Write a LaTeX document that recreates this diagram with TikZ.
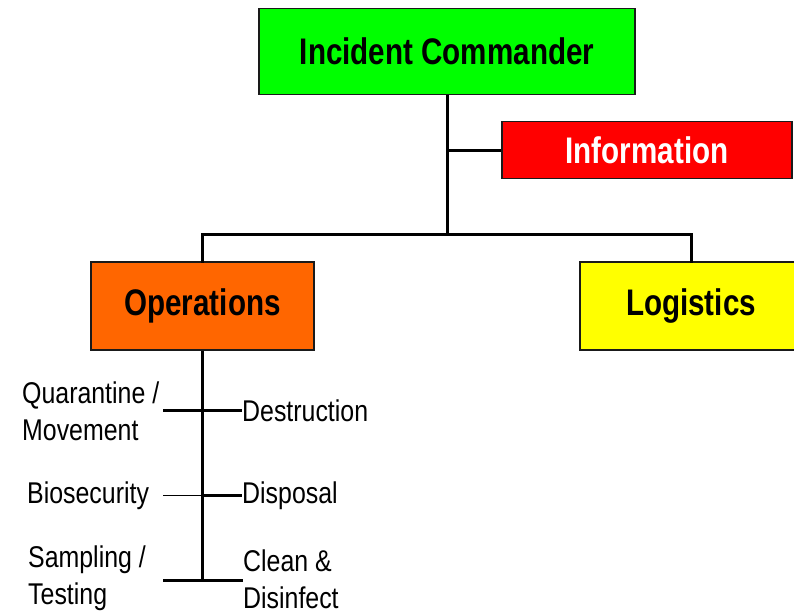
\documentclass[tikz,border=0pt]{standalone}
\usepackage{fontspec}
\setmainfont{Liberation Sans}
\newfontfamily\nbold{Liberation Sans}[FakeStretch=0.8]
\newfontfamily\nreg{Liberation Sans}[FakeStretch=0.83]
\definecolor{icgreen}{HTML}{00FF00}
\definecolor{infored}{HTML}{FF0000}
\definecolor{opsorange}{HTML}{FF6600}
\definecolor{logyellow}{HTML}{FFFF00}
\definecolor{edge}{HTML}{1A1A1A}
\begin{document}
\begin{tikzpicture}[x=1pt,y=-1pt,
  box/.style={draw=edge,line width=1.5pt,inner sep=0pt,font=\nbold\bfseries\fontsize{37}{40}\selectfont},
  conn/.style={line width=3pt,black},
  thinconn/.style={line width=1pt,black},
  lbl/.style={inner sep=0pt,font=\nreg\fontsize{30}{37}\selectfont,align=left}]
\useasboundingbox (0,0) rectangle (794,614);
% boxes
\node[box,fill=icgreen,minimum width=376pt,minimum height=86pt] (ic) at (447,51.5) {Incident Commander};
\node[box,fill=infored,text=white,minimum width=290pt,minimum height=57pt] (info) at (647,150) {Information};
\node[box,fill=opsorange,minimum width=223pt,minimum height=88pt] (ops) at (202.5,306) {Operations};
\node[box,fill=logyellow,minimum width=222pt,minimum height=88pt] (log) at (691,306) {Logistics};
% junctions
\coordinate (jn) at (447,234);
% main connectors
\draw[conn] (ic.south) -- (jn);
\draw[conn] (info.west) -- (info.west -| ic.south);
\draw[conn,line cap=rect] (ops.north) |- (jn) -| (log.north);
% operations sub-tree
\coordinate (b1) at (202.5,410.5);
\coordinate (b2) at (202.5,495.5);
\coordinate (b3) at (202.5,580);
\coordinate (l1) at (163,410.5);
\coordinate (l2) at (163,495.5);
\coordinate (l3) at (163,580);
\node[lbl,anchor=west] (destr) at (242,410.5) {Destruction};
\node[lbl,anchor=west] (disp) at (242,495.5) {Disposal};
\node[lbl,anchor=west] (clean) at (243,579.5) {Clean \&\\Disinfect};
\node[lbl,anchor=west] (quar) at (22,411) {Quarantine /\\Movement};
\node[lbl,anchor=west] (bio) at (27,495.5) {Biosecurity};
\node[lbl,anchor=west] (samp) at (28,578.5) {Sampling /\\Testing};
\draw[conn] (ops.south) -- (b3);
\draw[conn] (l1) -- (b1) -- (destr.west |- b1);
\draw[thinconn] (l2) -- (b2);
\draw[conn] (b2) -- (disp.west |- b2);
\draw[conn] (l3) -- (b3) -- (clean.west |- b3);
\end{tikzpicture}
\end{document}
